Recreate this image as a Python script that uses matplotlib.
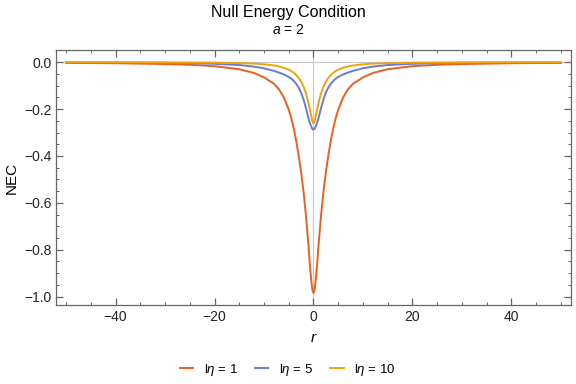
import matplotlib
matplotlib.use("Agg")
import matplotlib.pyplot as plt
from matplotlib.ticker import MultipleLocator

plt.rcParams["font.family"] = ["Liberation Sans", "DejaVu Sans"]
plt.rcParams["mathtext.fontset"] = "custom"
plt.rcParams["mathtext.it"] = "Liberation Sans:italic"
plt.rcParams["mathtext.rm"] = "Liberation Sans"

# 읽어낸 값 (r, NEC)
R = [-50, -40, -30, -25, -20, -15, -12, -10, -8, -7, -6, -5, -4.5, -4, -3.5, -3, -2.5, -2,
     -1.5, -1, -0.75, -0.5, -0.25,
     0, 0.25, 0.5, 0.75, 1, 1.5, 2, 2.5, 3, 3.5, 4, 4.5, 5, 6, 7, 8, 10, 12, 15, 20, 25, 30,
     40, 50]
NEC_1 = [-0.003, -0.0045, -0.008, -0.011, -0.017, -0.030, -0.046, -0.065, -0.092, -0.115,
         -0.15, -0.203, -0.238, -0.282, -0.335, -0.398, -0.47, -0.555,
         -0.66, -0.785, -0.86, -0.92, -0.968,
         -0.985,
         -0.968, -0.92, -0.86, -0.785, -0.66, -0.555, -0.47, -0.398, -0.335, -0.282, -0.238,
         -0.203, -0.15, -0.115, -0.092, -0.065, -0.046, -0.030, -0.017, -0.011, -0.008,
         -0.0045, -0.003]
NEC_5 = [-0.001, -0.0015, -0.003, -0.004, -0.007, -0.012, -0.019, -0.026, -0.037, -0.044,
         -0.052, -0.063, -0.07, -0.08, -0.092, -0.108, -0.13, -0.16,
         -0.198, -0.24, -0.258, -0.272, -0.284,
         -0.288,
         -0.284, -0.272, -0.258, -0.24, -0.198, -0.16, -0.13, -0.108, -0.092, -0.08, -0.07,
         -0.063, -0.052, -0.044, -0.037, -0.026, -0.019, -0.012, -0.007, -0.004, -0.003,
         -0.0015, -0.001]
NEC_10 = [-0.0002, -0.0004, -0.0008, -0.0012, -0.002, -0.004, -0.006, -0.009, -0.014, -0.018,
          -0.024, -0.032, -0.038, -0.045, -0.055, -0.067, -0.083, -0.105,
          -0.135, -0.175, -0.2, -0.225, -0.251,
          -0.262,
          -0.251, -0.225, -0.2, -0.175, -0.135, -0.105, -0.083, -0.067, -0.055, -0.045, -0.038,
          -0.032, -0.024, -0.018, -0.014, -0.009, -0.006, -0.004, -0.002, -0.0012, -0.0008,
          -0.0004, -0.0002]

LABELS = [r"l$\it{\eta}$ = 1", r"l$\it{\eta}$ = 5", r"l$\it{\eta}$ = 10"]
COLORS = ["#E6621F", "#6A7BD2", "#F2A20A"]

fig = plt.figure(figsize=(5.76, 3.84), dpi=100)
ax = fig.add_axes([0.0977, 0.2057, 0.8931, 0.6641])

ax.axhline(0, color="#C8C8C8", lw=0.8, zorder=0)
ax.axvline(0, color="#C8C8C8", lw=0.8, zorder=0)

for ys, lab, c in zip([NEC_1, NEC_5, NEC_10], LABELS, COLORS):
    ax.plot(R, ys, color=c, lw=1.4, label=lab, solid_joinstyle="round")

ax.set_xlim(-52, 52)
ax.set_ylim(-1.036, 0.052)
ax.xaxis.set_major_locator(MultipleLocator(20))
ax.xaxis.set_minor_locator(MultipleLocator(5))
ax.yaxis.set_major_locator(MultipleLocator(0.2))
ax.yaxis.set_minor_locator(MultipleLocator(0.05))
ax.yaxis.set_major_formatter(lambda v, p: f"{v:.1f}".replace("-", "\u2212"))
ax.xaxis.set_major_formatter(lambda v, p: f"{v:.0f}".replace("-", "\u2212"))

for s in ax.spines.values():
    s.set_color("#666666")
    s.set_linewidth(0.9)
ax.tick_params(which="both", direction="in", top=True, right=True, color="#666666",
               labelsize=10, labelcolor="#222222")
ax.tick_params(which="major", length=5, width=0.9)
ax.tick_params(which="minor", length=2.5, width=0.7)

ax.set_xlabel(r"$\it{r}$", fontsize=11, labelpad=5)
ax.set_ylabel("NEC", fontsize=11, labelpad=4)

fig.text(0.5, 0.967, "Null Energy Condition", ha="center", va="center", fontsize=11.5)
fig.text(0.5, 0.922, r"$\it{a}$ = 2", ha="center", va="center", fontsize=10)

fig.legend(loc="lower center", bbox_to_anchor=(0.5, -0.015), ncol=3, frameon=False,
           fontsize=9.5, handlelength=1.0, handletextpad=0.8, columnspacing=1.3)

fig.savefig("out.png", dpi=100)
